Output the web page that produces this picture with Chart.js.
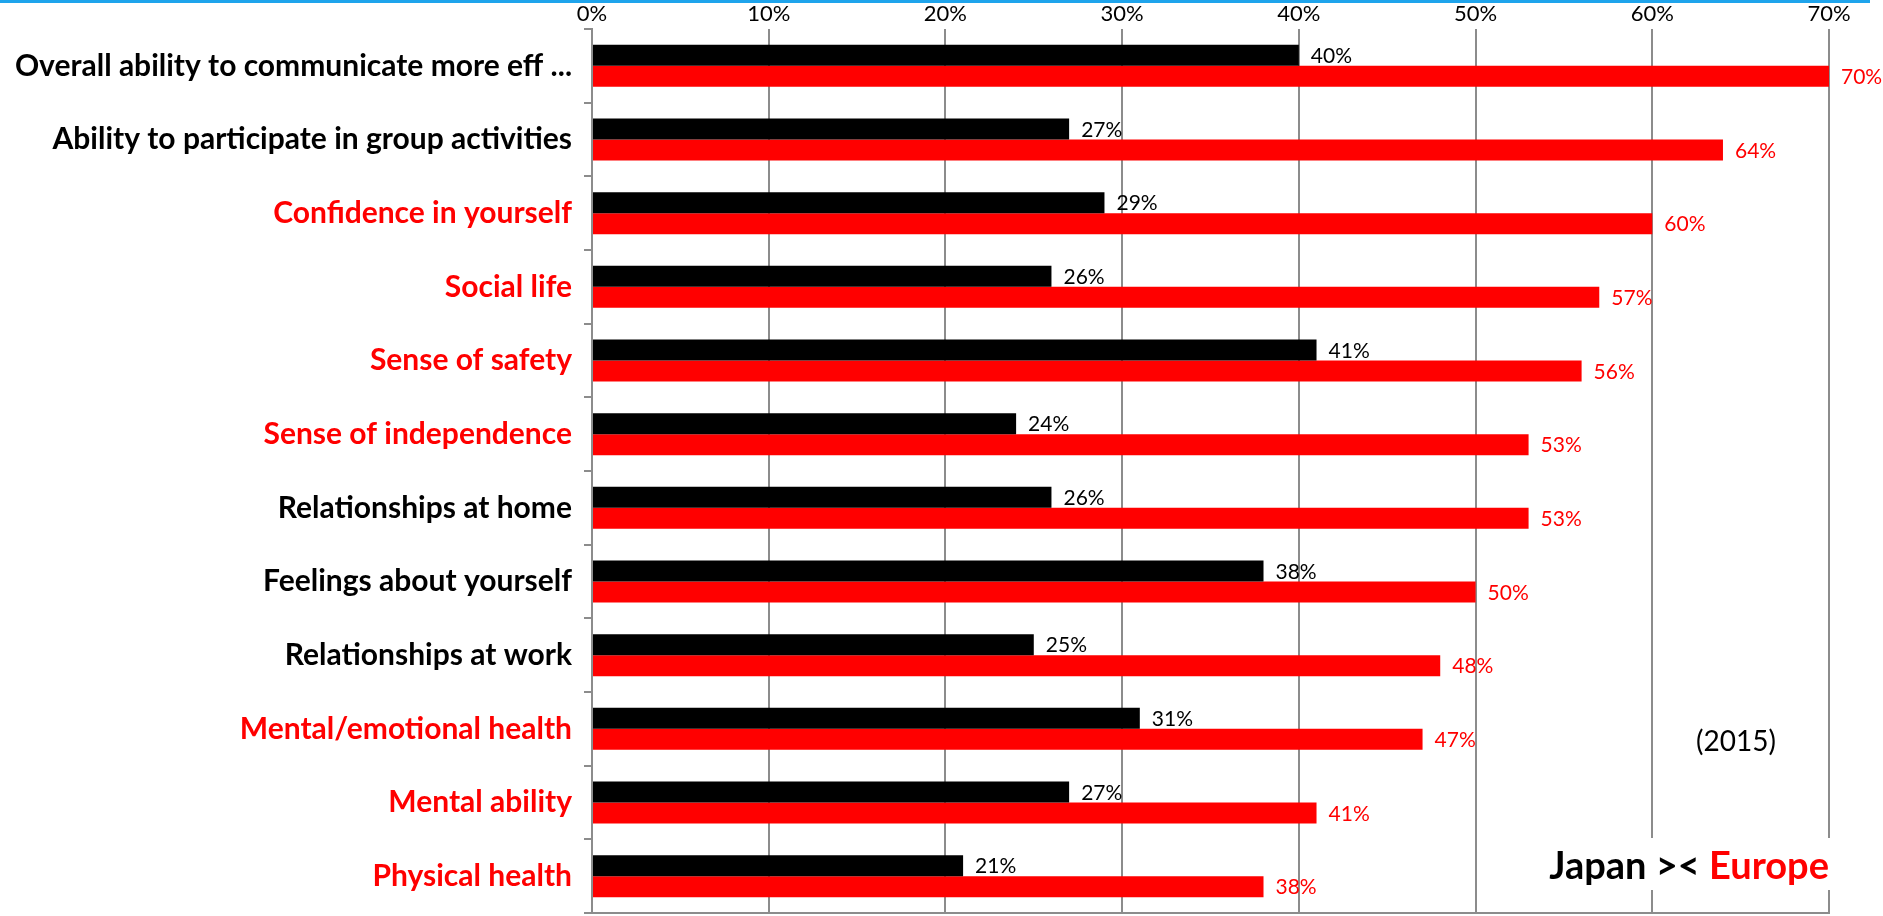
<!DOCTYPE html>
<html>
<head>
<meta charset="utf-8">
<script src="https://cdn.jsdelivr.net/npm/chart.js@4"></script>
<style>
  html, body { margin: 0; padding: 0; background: #fff; overflow: hidden; }
  canvas { display: block; }
</style>
</head>
<body>
<canvas id="barchart" width="1883" height="916"></canvas>
<script>
var categories = [
    'Overall ability to communicate more eff ...',
    'Ability to participate in group activities',
    'Confidence in yourself',
    'Social life',
    'Sense of safety',
    'Sense of independence',
    'Relationships at home',
    'Feelings about yourself',
    'Relationships at work',
    'Mental/emotional health',
    'Mental ability',
    'Physical health'
];
var japan = [40, 27, 29, 26, 41, 24, 26, 38, 25, 31, 27, 21];
var europe = [70, 64, 60, 57, 56, 53, 53, 50, 48, 47, 41, 38];
var xTicks = [0, 10, 20, 30, 40, 50, 60, 70];
// categories where Europe is clearly ahead get a red label
var redCategories = ['Confidence in yourself', 'Social life', 'Sense of safety',
    'Sense of independence', 'Mental/emotional health', 'Mental ability', 'Physical health'];

var RED = '#ff0000';
var GRID = '#8c8c8c';
var FONT = 'Lato, "Open Sans", sans-serif';

// value labels next to each bar
var valueLabels = {
    id: 'valueLabels',
    afterDatasetsDraw: function(chart) {
        var ctx = chart.ctx;
        ctx.save();
        ctx.font = '21px ' + FONT;
        ctx.textAlign = 'left';
        ctx.textBaseline = 'middle';
        chart.data.datasets.forEach(function(ds, i) {
            var meta = chart.getDatasetMeta(i);
            ctx.fillStyle = ds.labelColor;
            meta.data.forEach(function(bar, j) {
                ctx.fillText(ds.data[j] + '%', bar.x + 12, bar.y + 1);
            });
        });
        ctx.restore();
    }
};

// blue rule on top, bottom axis line, year note and the Japan >< Europe caption
var extras = {
    id: 'extras',
    beforeDraw: function(chart) {
        var ctx = chart.ctx;
        ctx.save();
        ctx.fillStyle = '#1ea4ec';
        ctx.fillRect(0, 0, 1870, 3);
        ctx.restore();
    },
    afterDraw: function(chart) {
        var ctx = chart.ctx;
        var area = chart.chartArea;
        ctx.save();
        ctx.strokeStyle = GRID;
        ctx.lineWidth = 2;
        ctx.beginPath();
        ctx.moveTo(area.left - 1, area.bottom);
        ctx.lineTo(area.right + 1, area.bottom);
        ctx.stroke();

        ctx.fillStyle = '#fff';
        ctx.fillRect(area.right - 290, area.bottom - 75, 292, 52);
        ctx.textBaseline = 'middle';
        ctx.font = '28px ' + FONT;
        ctx.fillStyle = '#000';
        ctx.textAlign = 'center';
        ctx.fillText('(2015)', 1736, 742);
        ctx.font = 'bold 38px ' + FONT;
        ctx.textAlign = 'right';
        ctx.fillStyle = RED;
        var rightX = area.right;
        ctx.fillText('Europe', rightX, 867);
        var w = ctx.measureText('Europe').width;
        ctx.fillStyle = '#000';
        ctx.fillText('Japan >< ', rightX - w, 867);
        ctx.restore();
    }
};

var chart1 = document.getElementById('barchart');

var myChart1 = new Chart(chart1, {
    type: 'bar',
    data: {
        labels: categories,
        datasets: [{
            label: 'Japan',
            data: japan,
            backgroundColor: '#000000',
            labelColor: '#000000',
            barPercentage: 1,
            categoryPercentage: 0.57
        }, {
            label: 'Europe',
            data: europe,
            backgroundColor: RED,
            labelColor: RED,
            barPercentage: 1,
            categoryPercentage: 0.57
        }]
    },
    options: {
        indexAxis: 'y',
        responsive: false,
        animation: false,
        layout: {
            padding: { left: 0, right: 54, top: 0, bottom: 3 }
        },
        scales: {
            x: {
                position: 'top',
                min: 0,
                max: 70,
                afterBuildTicks: function(scale) {
                    scale.ticks = xTicks.map(function(v) { return { value: v }; });
                },
                afterFit: function(scale) { scale.height = 29; },
                ticks: {
                    color: '#000',
                    font: { family: FONT, size: 22 },
                    padding: 2,
                    callback: function(v) { return v + '%'; }
                },
                grid: {
                    color: GRID,
                    lineWidth: 2,
                    tickLength: 0
                },
                border: { display: false }
            },
            y: {
                afterFit: function(scale) {
                    scale.width = 592;
                    scale.paddingTop = 0;
                    scale.paddingBottom = 0;
                },
                ticks: {
                    padding: 12,
                    font: { family: FONT, size: 30, weight: 'bold' },
                    color: function(c) {
                        return redCategories.indexOf(categories[c.index]) >= 0 ? RED : '#000';
                    }
                },
                grid: {
                    drawOnChartArea: false,
                    offset: true,
                    color: GRID,
                    lineWidth: 2,
                    tickLength: 8
                },
                border: { display: true, color: GRID, width: 2 }
            }
        },
        plugins: {
            legend: { display: false },
            tooltip: { enabled: false }
        }
    },
    plugins: [valueLabels, extras]
});
</script>
</body>
</html>
